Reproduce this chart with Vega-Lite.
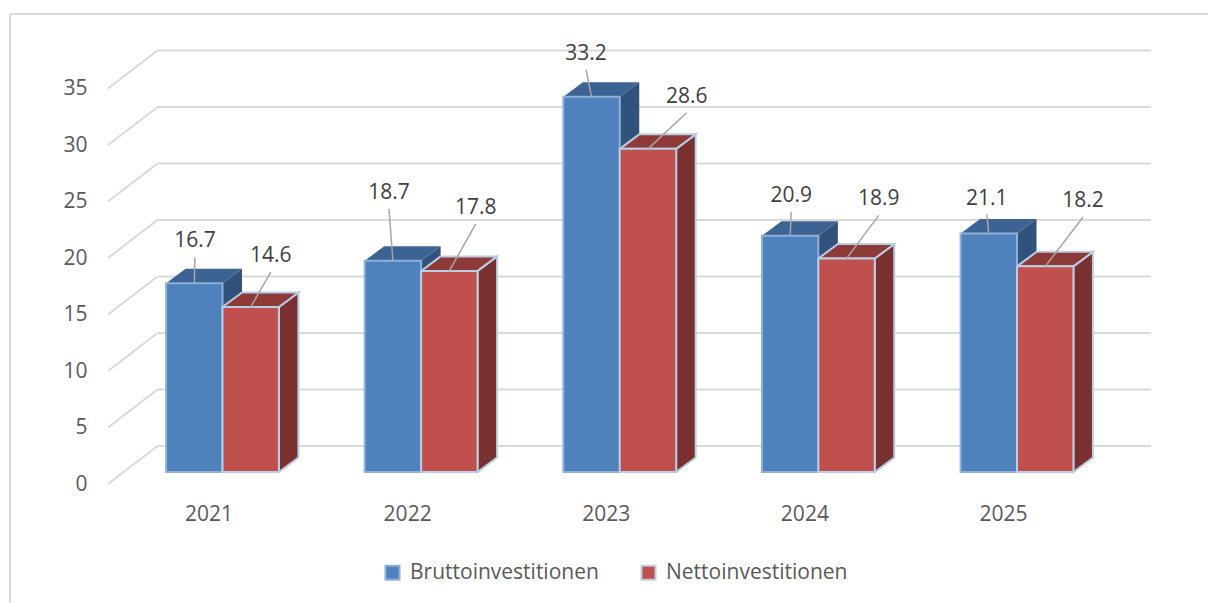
{
"$schema":"https://vega.github.io/schema/vega-lite/v6.json",
"width":1198,"height":589,
"autosize":{"type":"none"},
"padding":{"left":10,"top":14,"right":0,"bottom":0},
"background":"#ffffff",
"config":{"view":{"stroke":null},"font":"Open Sans"},
"datasets":{
 "bars":[
  {"year":2021,"series":"Bruttoinvestitionen","value":16.7},
  {"year":2022,"series":"Bruttoinvestitionen","value":18.7},
  {"year":2023,"series":"Bruttoinvestitionen","value":33.2},
  {"year":2024,"series":"Bruttoinvestitionen","value":20.9},
  {"year":2025,"series":"Bruttoinvestitionen","value":21.1},
  {"year":2021,"series":"Nettoinvestitionen","value":14.6},
  {"year":2022,"series":"Nettoinvestitionen","value":17.8},
  {"year":2023,"series":"Nettoinvestitionen","value":28.6},
  {"year":2024,"series":"Nettoinvestitionen","value":18.9},
  {"year":2025,"series":"Nettoinvestitionen","value":18.2}
 ],
 "levels":[{"level":0},{"level":5},{"level":10},{"level":15},{"level":20},{"level":25},{"level":30},{"level":35}],
 "frame":[{"edge":"top"},{"edge":"left"}]
},
"encoding":{
 "x":{"field":"X","type":"quantitative","title":null,
  "scale":{"domain":[2019.9301,2025.9616],"nice":false,"zero":false},
  "axis":{"values":[2021,2022,2023,2024,2025],"format":"d","grid":false,"ticks":false,"domain":false,"labelOffset":-14,"labelPadding":-89,"labelBaseline":"middle","labelFontSize":21,"labelColor":"#595959","labelFont":"Open Sans"}},
 "y":{"field":"Y","type":"quantitative","title":null,
  "scale":{"domain":[-11.591,40.532],"nice":false,"zero":false},
  "axis":{"values":[0,5,10,15,20,25,30,35],"grid":false,"ticks":false,"domain":false,"labelOffset":12,"labelPadding":-77,"labelAlign":"right","labelBaseline":"middle","labelFontSize":21,"labelColor":"#595959","labelFont":"Open Sans"}}
},
"layer":[
 {"data":{"name":"frame"},
  "transform":[
   {"calculate":"datum.edge==='left'?-11.591:40.532","as":"Y"},
   {"calculate":"2019.9301","as":"X"},
   {"calculate":"datum.edge==='top'?2025.9616:2019.9301","as":"X2"},
   {"calculate":"40.532","as":"Y2"}],
  "mark":{"type":"rule","color":"#d9d9d9","strokeWidth":2},
  "encoding":{"x2":{"field":"X2"},"y2":{"field":"Y2"}}},
 {"data":{"name":"levels"},
  "transform":[
   {"calculate":"2020.6727","as":"X"},
   {"calculate":"2025.6747","as":"X2"},
   {"calculate":"datum.level+2.30","as":"Y"}],
  "mark":{"type":"rule","color":"#d9d9d9","strokeWidth":2},
  "encoding":{"x2":{"field":"X2"}}},
 {"data":{"name":"levels"},
  "transform":[
   {"calculate":"2020.4235","as":"X"},
   {"calculate":"2020.6727","as":"X2"},
   {"calculate":"datum.level-1.06","as":"Y"},
   {"calculate":"datum.level+2.30","as":"Y2"}],
  "mark":{"type":"rule","color":"#d9d9d9","strokeWidth":2},
  "encoding":{"x2":{"field":"X2"},"y2":{"field":"Y2"}}},
 {"data":{"name":"bars"},
  "transform":[
   {"filter":"datum.series==='Bruttoinvestitionen'"},
   {"calculate":"[0,1]","as":"t"},{"flatten":["t"]},
   {"calculate":"datum.year+datum.t*0.0982","as":"X"},
   {"calculate":"datum.value+datum.t*1.283","as":"Y"},
   {"calculate":"datum.t*1.283","as":"Y2"}],
  "mark":{"type":"area","orient":"vertical","fill":"#31527a"},
  "encoding":{"y2":{"field":"Y2"},"detail":{"field":"year"}}},
 {"data":{"name":"bars"},
  "transform":[
   {"filter":"datum.series==='Bruttoinvestitionen'"},
   {"calculate":"[0,1]","as":"t"},{"flatten":["t"]},
   {"calculate":"datum.year-0.284+datum.t*0.0982","as":"X"},
   {"calculate":"datum.year+datum.t*0.0982","as":"X2"},
   {"calculate":"datum.value+datum.t*1.283","as":"Y"}],
  "mark":{"type":"area","orient":"horizontal","fill":"#3c6393"},
  "encoding":{"x2":{"field":"X2"},"detail":{"field":"year"}}},
 {"data":{"name":"bars"},
  "transform":[
   {"filter":"datum.series==='Nettoinvestitionen'"},
   {"calculate":"[0,1]","as":"t"},{"flatten":["t"]},
   {"calculate":"datum.year+0.284+datum.t*0.0982","as":"X"},
   {"calculate":"datum.value+datum.t*1.283","as":"Y"},
   {"calculate":"datum.t*1.283","as":"Y2"}],
  "mark":{"type":"area","orient":"vertical","fill":"#7a302e","stroke":"#b9cde5","strokeWidth":2},
  "encoding":{"y2":{"field":"Y2"},"detail":{"field":"year"}}},
 {"data":{"name":"bars"},
  "transform":[
   {"filter":"datum.series==='Nettoinvestitionen'"},
   {"calculate":"[0,1]","as":"t"},{"flatten":["t"]},
   {"calculate":"datum.year+datum.t*0.0982","as":"X"},
   {"calculate":"datum.year+0.284+datum.t*0.0982","as":"X2"},
   {"calculate":"datum.value+datum.t*1.283","as":"Y"}],
  "mark":{"type":"area","orient":"horizontal","fill":"#8e3a38","stroke":"#b9cde5","strokeWidth":2},
  "encoding":{"x2":{"field":"X2"},"detail":{"field":"year"}}},
 {"data":{"name":"bars"},
  "transform":[
   {"calculate":"datum.series==='Bruttoinvestitionen'?datum.year-0.284:datum.year","as":"X"},
   {"calculate":"datum.X+0.284","as":"X2"},
   {"calculate":"datum.value","as":"Y"},
   {"calculate":"0","as":"Y2"}],
  "mark":{"type":"rect","strokeWidth":2},
  "encoding":{
   "x2":{"field":"X2"},"y2":{"field":"Y2"},
   "fill":{"field":"series","type":"nominal","title":null,
    "scale":{"domain":["Bruttoinvestitionen","Nettoinvestitionen"],"range":["#4f81bd","#c0504d"]},
    "legend":{"orient":"none","legendX":372,"legendY":548,"direction":"horizontal","title":null,"symbolType":"square","symbolSize":196,"symbolStrokeWidth":2,"labelFontSize":21,"labelLimit":300,"labelColor":"#595959","labelFont":"Open Sans","columnPadding":38,"labelOffset":7}},
   "stroke":{"field":"series","type":"nominal","title":null,
    "scale":{"domain":["Bruttoinvestitionen","Nettoinvestitionen"],"range":["#8fb0d8","#b9cde5"]}}}},
 {"data":{"name":"bars"},
  "transform":[
   {"calculate":"datum.series==='Bruttoinvestitionen'?datum.year-0.142:datum.year+0.142","as":"X2"},
   {"calculate":"datum.series==='Bruttoinvestitionen'?[0.003,-0.02,-0.028,0.005,-0.01][datum.year-2021]:[0.101,0.133,0.195,0.162,0.19][datum.year-2021]","as":"shiftX"},
   {"calculate":"datum.series==='Bruttoinvestitionen'?[3.81,6.1,3.9,3.63,3.19][datum.year-2021]:[4.6,5.66,4.69,5.31,5.84][datum.year-2021]","as":"shiftY"},
   {"calculate":"datum.X2+datum.shiftX","as":"X"},
   {"calculate":"datum.value+datum.shiftY-1.5","as":"Y"},
   {"calculate":"datum.value","as":"Y2"}],
  "mark":{"type":"rule","color":"#a6a6a6","strokeWidth":1.5},
  "encoding":{"x2":{"field":"X2"},"y2":{"field":"Y2"}}},
 {"data":{"name":"bars"},
  "transform":[
   {"calculate":"datum.series==='Bruttoinvestitionen'?datum.year-0.142:datum.year+0.142","as":"cx"},
   {"calculate":"datum.series==='Bruttoinvestitionen'?[0.003,-0.02,-0.028,0.005,-0.01][datum.year-2021]:[0.101,0.133,0.195,0.162,0.19][datum.year-2021]","as":"shiftX"},
   {"calculate":"datum.series==='Bruttoinvestitionen'?[3.81,6.1,3.9,3.63,3.19][datum.year-2021]:[4.6,5.66,4.69,5.31,5.84][datum.year-2021]","as":"shiftY"},
   {"calculate":"datum.cx+datum.shiftX","as":"X"},
   {"calculate":"datum.value+datum.shiftY","as":"Y"}],
  "mark":{"type":"text","fontSize":21,"color":"#404040","align":"center","baseline":"middle","font":"Open Sans","dy":1},
  "encoding":{"text":{"field":"value","type":"quantitative","format":".1f"}}}
]
}
